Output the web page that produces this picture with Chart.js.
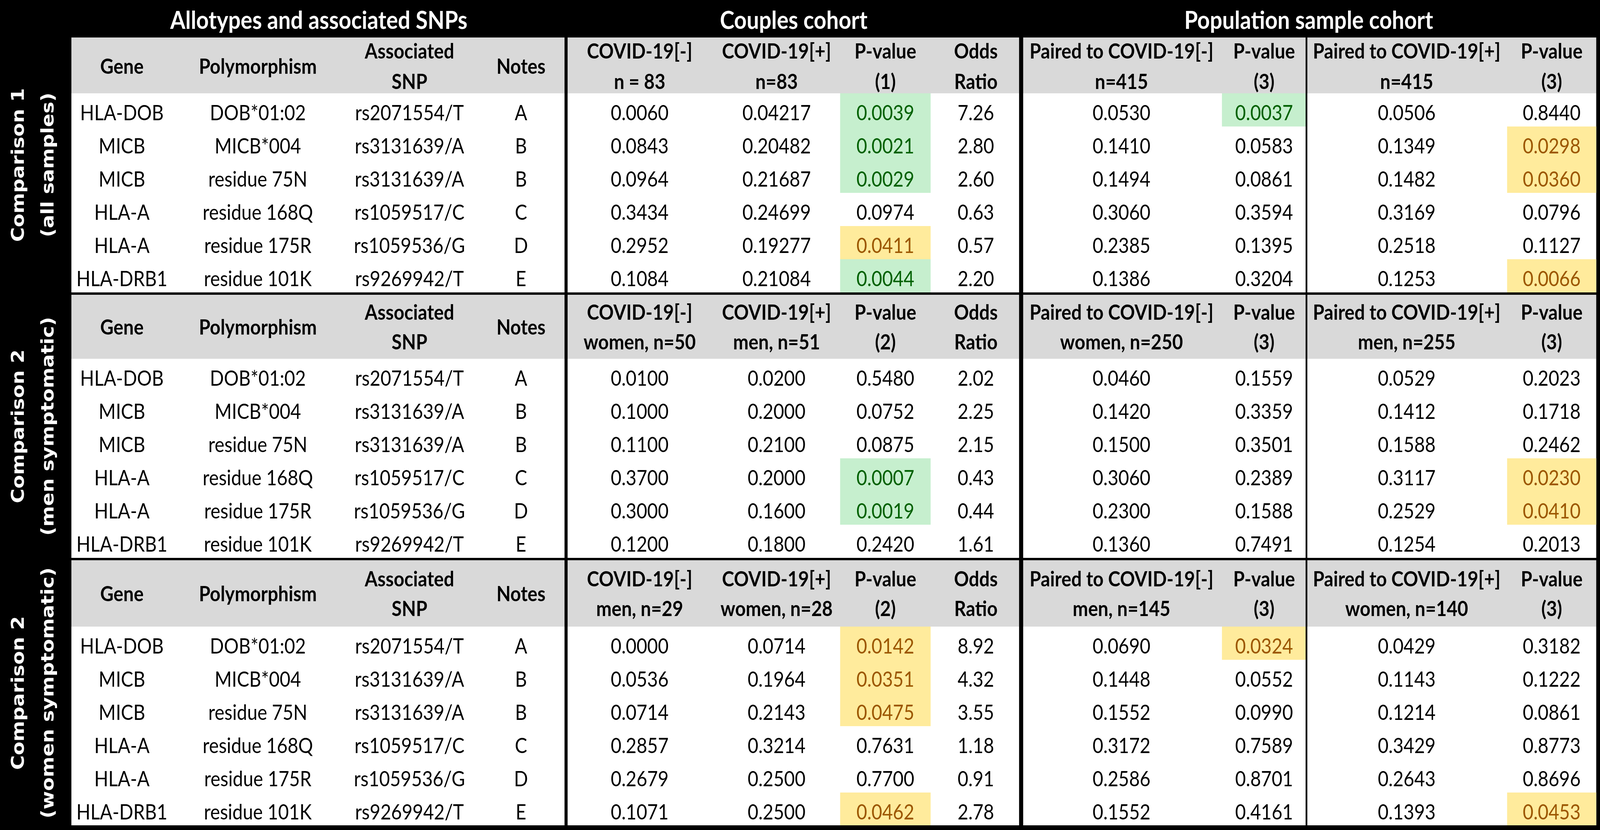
<!DOCTYPE html>
<html>
<head>
<meta charset="utf-8">
<script src="https://cdn.jsdelivr.net/npm/chart.js@4.4.0/dist/chart.umd.min.js"></script>
<style>
    html, body { margin: 0; padding: 0; background: #000; overflow: hidden; }
    #wrap { position: fixed; left: 0; top: 0; width: 100vw; height: 100vh; }
</style>
</head>
<body>
<div id="wrap"><canvas id="tabela"></canvas></div>
<script>
// Linhas da tabela (iguais nos três blocos)
const genes = ['HLA-DOB', 'MICB', 'MICB', 'HLA-A', 'HLA-A', 'HLA-DRB1'];
const polymorphisms = ['DOB*01:02', 'MICB*004', 'residue 75N', 'residue 168Q', 'residue 175R', 'residue 101K'];
const snps = ['rs2071554/T', 'rs3131639/A', 'rs3131639/A', 'rs1059517/C', 'rs1059536/G', 'rs9269942/T'];
const notes = ['A', 'B', 'B', 'C', 'D', 'E'];

// Títulos
const sectionTitles = ['Allotypes and associated SNPs', 'Couples cohort', 'Population sample cohort'];
const comparisonLabels = [
    ['Comparison 1', '(all samples)'],
    ['Comparison 2', '(men symptomatic)'],
    ['Comparison 2', '(women symptomatic)']
];
const fixedHeaders = [['Gene'], ['Polymorphism'], ['Associated', 'SNP'], ['Notes']];
const negHeaders = ['n = 83', 'women, n=50', 'men, n=29'];
const posHeaders = ['n=83', 'men, n=51', 'women, n=28'];
const pCouplesHeaders = ['(1)', '(2)', '(2)'];
const popNegHeaders = ['n=415', 'women, n=250', 'men, n=145'];
const popPosHeaders = ['n=415', 'men, n=255', 'women, n=140'];

// Comparison 1 (all samples)
const couplesNeg1 = [0.0060, 0.0843, 0.0964, 0.3434, 0.2952, 0.1084];
const couplesPos1 = [0.04217, 0.20482, 0.21687, 0.24699, 0.19277, 0.21084];
const pCouples1 = [0.0039, 0.0021, 0.0029, 0.0974, 0.0411, 0.0044];
const oddsRatio1 = [7.26, 2.80, 2.60, 0.63, 0.57, 2.20];
const popNeg1 = [0.0530, 0.1410, 0.1494, 0.3060, 0.2385, 0.1386];
const pPopNeg1 = [0.0037, 0.0583, 0.0861, 0.3594, 0.1395, 0.3204];
const popPos1 = [0.0506, 0.1349, 0.1482, 0.3169, 0.2518, 0.1253];
const pPopPos1 = [0.8440, 0.0298, 0.0360, 0.0796, 0.1127, 0.0066];

// Comparison 2 (men symptomatic)
const couplesNeg2 = [0.0100, 0.1000, 0.1100, 0.3700, 0.3000, 0.1200];
const couplesPos2 = [0.0200, 0.2000, 0.2100, 0.2000, 0.1600, 0.1800];
const pCouples2 = [0.5480, 0.0752, 0.0875, 0.0007, 0.0019, 0.2420];
const oddsRatio2 = [2.02, 2.25, 2.15, 0.43, 0.44, 1.61];
const popNeg2 = [0.0460, 0.1420, 0.1500, 0.3060, 0.2300, 0.1360];
const pPopNeg2 = [0.1559, 0.3359, 0.3501, 0.2389, 0.1588, 0.7491];
const popPos2 = [0.0529, 0.1412, 0.1588, 0.3117, 0.2529, 0.1254];
const pPopPos2 = [0.2023, 0.1718, 0.2462, 0.0230, 0.0410, 0.2013];

// Comparison 2 (women symptomatic)
const couplesNeg3 = [0.0000, 0.0536, 0.0714, 0.2857, 0.2679, 0.1071];
const couplesPos3 = [0.0714, 0.1964, 0.2143, 0.3214, 0.2500, 0.2500];
const pCouples3 = [0.0142, 0.0351, 0.0475, 0.7631, 0.7700, 0.0462];
const oddsRatio3 = [8.92, 4.32, 3.55, 1.18, 0.91, 2.78];
const popNeg3 = [0.0690, 0.1448, 0.1552, 0.3172, 0.2586, 0.1552];
const pPopNeg3 = [0.0324, 0.0552, 0.0990, 0.7589, 0.8701, 0.4161];
const popPos3 = [0.0429, 0.1143, 0.1214, 0.3429, 0.2643, 0.1393];
const pPopPos3 = [0.3182, 0.1222, 0.0861, 0.8773, 0.8696, 0.0453];

// Grelha (unidades dos eixos)
const colEdges = [209, 505, 1005, 1393, 1658, 2088, 2460, 2725, 2990, 3578, 3825, 4413, 4674];
const blockTops = [96, 755, 1435];
const headHeights = [143, 164, 170];
const headBaselines = [[54, 132], [64, 140], [67, 143]];
const rowH = 85;
const W = 4685, H = 2126;

const FONT = 'Lato, "Open Sans", sans-serif';
const GRAY = '#D9D9D9';

// Montar colunas de cada bloco a partir das listas
const blocks = [
    [couplesNeg1, couplesPos1, pCouples1, oddsRatio1, popNeg1, pPopNeg1, popPos1, pPopPos1],
    [couplesNeg2, couplesPos2, pCouples2, oddsRatio2, popNeg2, pPopNeg2, popPos2, pPopPos2],
    [couplesNeg3, couplesPos3, pCouples3, oddsRatio3, popNeg3, pPopNeg3, popPos3, pPopPos3]
];
const decimals = [[4, 5, 4, 2, 4, 4, 4, 4], [4, 4, 4, 2, 4, 4, 4, 4], [4, 4, 4, 2, 4, 4, 4, 4]];
const isPValue = [false, false, true, false, false, true, false, true];

const headersFor = b => fixedHeaders.concat([
    ['COVID-19[-]', negHeaders[b]],
    ['COVID-19[+]', posHeaders[b]],
    ['P-value', pCouplesHeaders[b]],
    ['Odds', 'Ratio'],
    ['Paired to COVID-19[-]', popNegHeaders[b]],
    ['P-value', '(3)'],
    ['Paired to COVID-19[+]', popPosHeaders[b]],
    ['P-value', '(3)']
]);

const tabelaPlugin = {
    id: 'tabela',
    afterDatasetsDraw(chart) {
        const ctx = chart.ctx;
        const sx = chart.scales.x, sy = chart.scales.y;
        const X = v => sx.getPixelForValue(v);
        const Y = v => sy.getPixelForValue(v);
        // o texto acompanha a escala de cada eixo
        const kx = chart.width / W, ky = chart.height / H;
        const fill = (x0, x1, y0, y1, cor) => {
            ctx.fillStyle = cor;
            ctx.fillRect(X(x0), Y(y0), X(x1) - X(x0), Y(y1) - Y(y0));
        };
        const write = (s, x, y, font, cor, rot) => {
            ctx.save();
            ctx.translate(X(x), Y(y));
            ctx.scale(kx, ky);
            if (rot) ctx.rotate(rot);
            ctx.font = font;
            ctx.fillStyle = cor;
            ctx.textAlign = 'center';
            ctx.textBaseline = rot ? 'middle' : 'alphabetic';
            ctx.fillText(s, 0, 0);
            ctx.restore();
        };
        const mid = c => (colEdges[c] + colEdges[c + 1]) / 2;
        const left = colEdges[0], right = colEdges[colEdges.length - 1];

        const titleFont = 'bold 64px ' + FONT;
        const hFont = 'bold 54px ' + FONT;
        const dFont = '54px ' + FONT;
        const sideFont = 'bold 51px "DejaVu Sans", sans-serif';

        ctx.save();
        fill(0, W, 0, H, '#000');

        // Títulos das secções
        const spans = [[0, 4], [4, 8], [8, 12]];
        sectionTitles.forEach((t, i) => {
            const cx = (colEdges[spans[i][0]] + colEdges[spans[i][1]]) / 2;
            write(t, cx, 74, titleFont, '#fff');
        });

        blocks.forEach((cols, b) => {
            const top = blockTops[b];
            const bodyTop = top + headHeights[b];
            fill(left, right, top, bodyTop, GRAY);
            fill(left, right, bodyTop, bodyTop + 6 * rowH, '#fff');

            // Cabeçalho
            const [l1, l2] = headBaselines[b];
            headersFor(b).forEach((h, c) => {
                if (h.length === 1) {
                    write(h[0], mid(c), top + (l1 + l2) / 2, hFont, '#000');
                } else {
                    write(h[0], mid(c), top + l1, hFont, '#000');
                    write(h[1], mid(c), top + l2, hFont, '#000');
                }
            });

            // Linhas de dados
            for (let r = 0; r < 6; r++) {
                const y0 = bodyTop + r * rowH;
                const base = y0 + 69;
                [genes, polymorphisms, snps, notes].forEach((arr, c) => {
                    write(arr[r], mid(c), base, dFont, '#000');
                });
                cols.forEach((arr, j) => {
                    const c = j + 4;
                    const v = arr[r];
                    let cor = '#000';
                    if (isPValue[j] && v < 0.05) {
                        const verde = v < 0.005;
                        fill(colEdges[c], colEdges[c + 1], y0, y0 + rowH, verde ? '#C6EFCE' : '#FFEB9C');
                        cor = verde ? '#006100' : '#9C5700';
                    }
                    write(v.toFixed(decimals[b][j]), mid(c), base, dFont, cor);
                });
            }

            // Rótulo vertical do bloco
            const yc = (top + bodyTop + 6 * rowH) / 2;
            [56, 143].forEach((xl, i) => {
                write(comparisonLabels[b][i], xl, yc, sideFont, '#fff', -Math.PI / 2);
            });
        });

        // Divisórias horizontais entre blocos
        fill(left, right, 749, 755, '#000');
        fill(left, right, 1429, 1435, '#000');
        fill(0, W, 2114, H, '#000');

        // Divisórias verticais
        fill(1653, 1662, 96, 2115, '#000');
        fill(2984, 2996, 96, 2115, '#000');
        fill(3823, 3828, 96, 2115, '#000');
        ctx.restore();
    }
};

const desenhar = () => {
    const ctx = document.getElementById('tabela').getContext('2d');
    new Chart(ctx, {
        type: 'scatter',
        data: { datasets: [] },
        options: {
            responsive: true,
            maintainAspectRatio: false,
            animation: false,
            events: [],
            layout: { padding: 0 },
            plugins: { legend: { display: false }, tooltip: { enabled: false } },
            scales: {
                x: { type: 'linear', min: 0, max: W, display: false },
                y: { type: 'linear', min: 0, max: H, reverse: true, display: false }
            }
        },
        plugins: [tabelaPlugin]
    });
};

Promise.all([
    document.fonts.load('54px Lato'),
    document.fonts.load('bold 54px Lato'),
    document.fonts.load('bold 51px "DejaVu Sans"')
]).then(desenhar, desenhar);
</script>
</body>
</html>
